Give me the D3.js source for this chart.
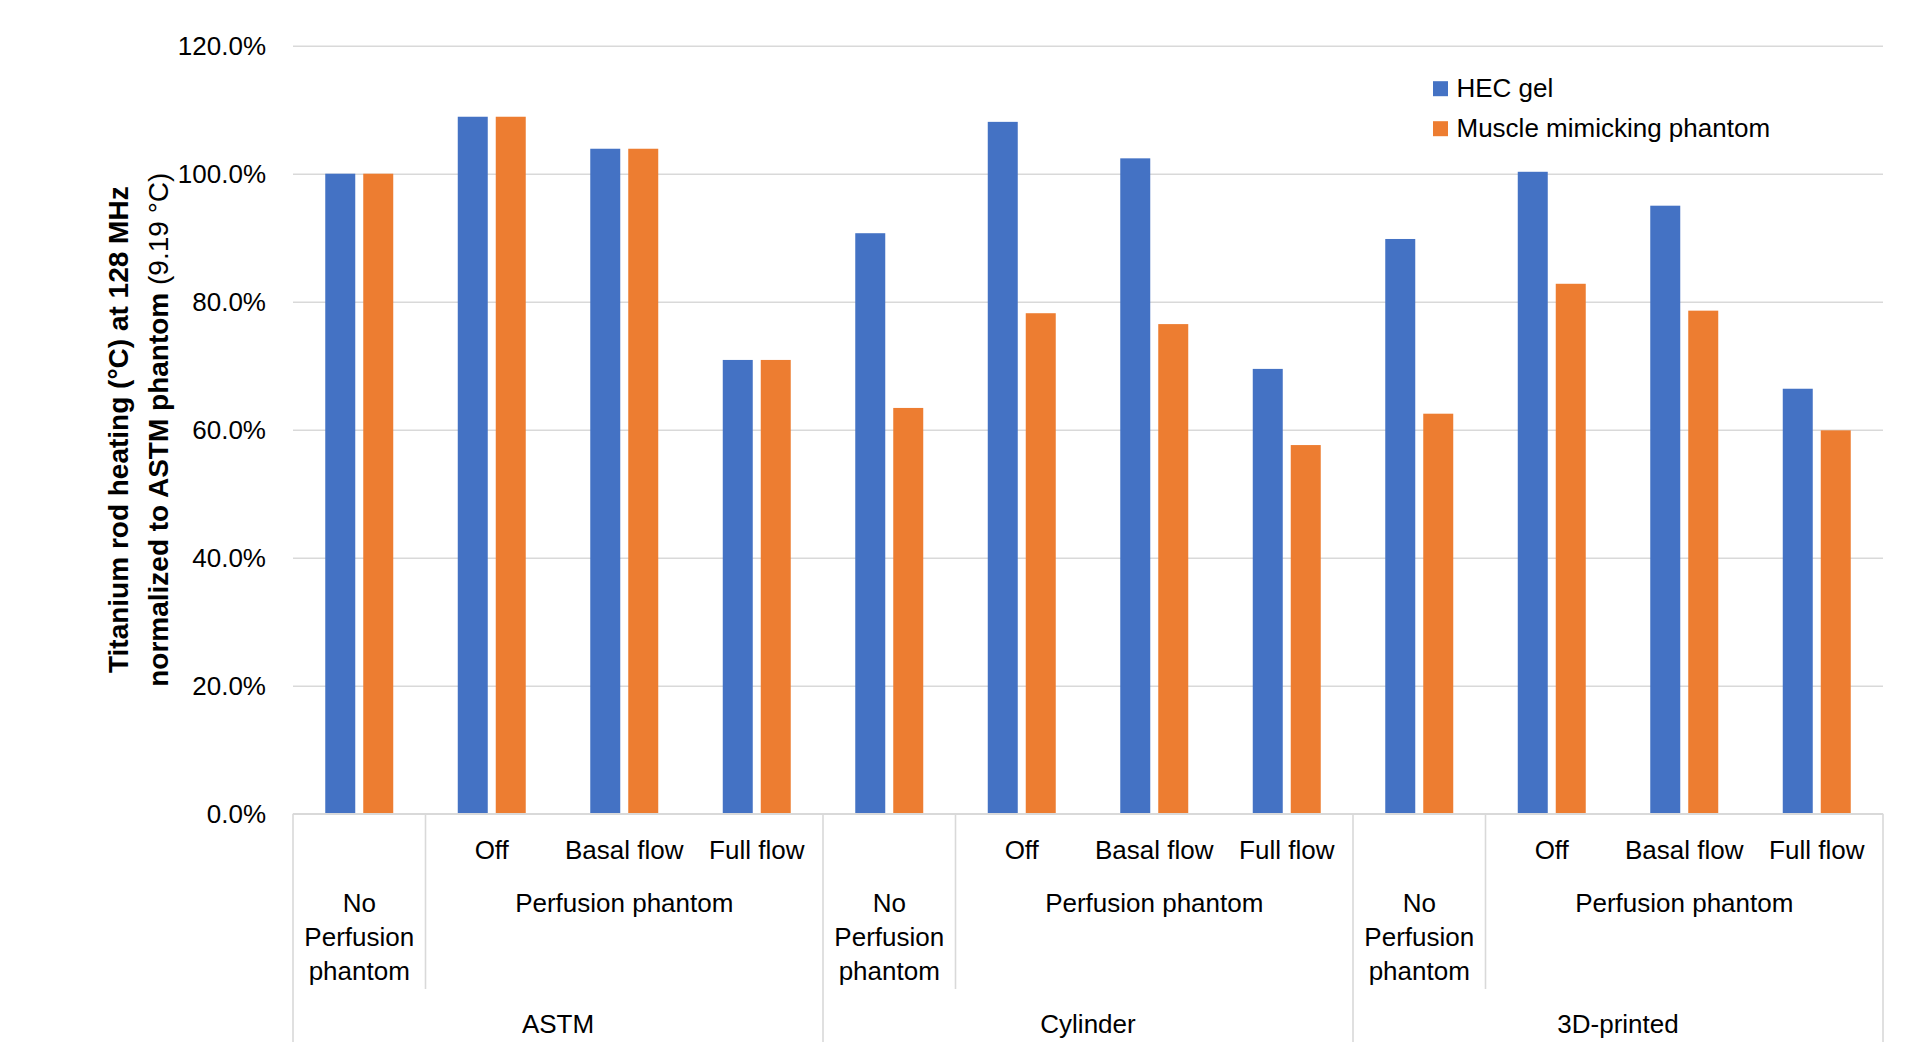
<!DOCTYPE html>
<html>
<head>
<meta charset="utf-8">
<script src="https://cdn.jsdelivr.net/npm/d3@7"></script>
<style>
  html, body { margin: 0; padding: 0; background: #fff; }
  svg { display: block; }
  text { font-family: "Liberation Sans", Arial, sans-serif; fill: #000; }
</style>
</head>
<body>
<svg id="chart" width="1906" height="1056"></svg>
<script>
// ---------- data ----------
const phantomTypes = ["ASTM", "ASTM", "ASTM", "ASTM",
                      "Cylinder", "Cylinder", "Cylinder", "Cylinder",
                      "3D-printed", "3D-printed", "3D-printed", "3D-printed"];
const perfusionLabels = ["No Perfusion phantom", "Perfusion phantom", "Perfusion phantom", "Perfusion phantom",
                         "No Perfusion phantom", "Perfusion phantom", "Perfusion phantom", "Perfusion phantom",
                         "No Perfusion phantom", "Perfusion phantom", "Perfusion phantom", "Perfusion phantom"];
const flowLabels = ["", "Off", "Basal flow", "Full flow",
                    "", "Off", "Basal flow", "Full flow",
                    "", "Off", "Basal flow", "Full flow"];
const seriesNames = ["HEC gel", "Muscle mimicking phantom"];
const hecGel = [1.000, 1.089, 1.039, 0.709, 0.907, 1.081, 1.024, 0.695, 0.898, 1.003, 0.950, 0.664];
const muscle = [1.000, 1.089, 1.039, 0.709, 0.634, 0.782, 0.765, 0.576, 0.625, 0.828, 0.786, 0.599];
const yTicks = [0, 0.2, 0.4, 0.6, 0.8, 1.0, 1.2];
const colors = ["#4472C4", "#ED7D31"];

(function draw() {
  const svg = d3.select("#chart");
  const pLeft = 293, pRight = 1883, pTop = 45.7, pBottom = 813.7;
  const idx = d3.range(flowLabels.length);
  const x0 = d3.scaleBand().domain(idx).range([pLeft, pRight]).paddingInner(0).paddingOuter(0);
  const x1 = d3.scaleBand().domain(seriesNames).range([0, x0.bandwidth()])
    .paddingInner(0.2105).paddingOuter(0.849);
  const y = d3.scaleLinear().domain([0, 1.2]).range([pBottom, pTop]);
  const color = d3.scaleOrdinal().domain(seriesNames).range(colors);
  const fs = 26;
  const ff = '"Liberation Sans", Arial, sans-serif';
  const axisColor = "#D9D9D9";

  // gridlines + tick labels
  const yAxis = d3.axisLeft(y).tickValues(yTicks).tickFormat(d3.format(".1%")).tickSize(0).tickPadding(0);
  const gy = svg.append("g").attr("transform", `translate(${pLeft},0)`).call(yAxis);
  gy.select(".domain").remove();
  gy.selectAll(".tick line").attr("x2", pRight - pLeft).attr("stroke", axisColor).attr("stroke-width", 1.6);
  gy.selectAll(".tick text").attr("x", -27).attr("dy", "0.34em")
    .style("font-size", fs + "px").style("font-family", ff).attr("fill", "#000");

  // bars
  const seriesData = [hecGel, muscle];
  const gBars = svg.append("g");
  seriesNames.forEach((s, si) => {
    gBars.selectAll(null).data(idx).enter().append("rect")
      .attr("x", i => x0(i) + x1(s))
      .attr("width", x1.bandwidth())
      .attr("y", i => y(seriesData[si][i]))
      .attr("height", i => y(0) - y(seriesData[si][i]))
      .attr("fill", color(s));
  });

  // x axis line
  svg.append("line").attr("x1", pLeft).attr("x2", pRight).attr("y1", pBottom).attr("y2", pBottom)
    .attr("stroke", axisColor).attr("stroke-width", 1.6);

  // multi-level category axis
  const row1 = 859, row2 = 912, lineH = 34, row3 = 1033;
  const shortEnd = 989, longEnd = 1042;
  const gx = svg.append("g");

  function wrapText(sel, text, maxW) {
    const words = text.split(" ");
    const lines = [];
    let cur = "";
    const tmp = sel.append("tspan");
    words.forEach(w => {
      const test = cur ? cur + " " + w : w;
      tmp.text(test);
      if (tmp.node().getComputedTextLength() > maxW && cur) { lines.push(cur); cur = w; }
      else cur = test;
    });
    lines.push(cur);
    tmp.remove();
    lines.forEach((l, k) => {
      sel.append("tspan").attr("x", sel.attr("x")).attr("dy", k === 0 ? 0 : lineH).text(l);
    });
  }

  idx.forEach(i => {
    if (flowLabels[i]) {
      gx.append("text").attr("x", x0(i) + x0.bandwidth() / 2).attr("y", row1)
        .attr("text-anchor", "middle").style("font-size", fs + "px").text(flowLabels[i]);
    }
  });

  function spans(arr, parent) {
    const out = [];
    let start = 0;
    for (let i = 1; i <= arr.length; i++) {
      if (i === arr.length || arr[i] !== arr[start] || (parent && parent[i] !== parent[start])) {
        out.push({ label: arr[start], start, end: i - 1 });
        start = i;
      }
    }
    return out;
  }
  const sp2 = spans(perfusionLabels, phantomTypes);
  const sp3 = spans(phantomTypes);

  sp2.forEach(s => {
    const xs = x0(s.start), xe = x0(s.end) + x0.bandwidth();
    const t = gx.append("text").attr("x", (xs + xe) / 2).attr("y", row2)
      .attr("text-anchor", "middle").style("font-size", fs + "px");
    wrapText(t, s.label, xe - xs - 8);
  });
  sp3.forEach(s => {
    const xs = x0(s.start), xe = x0(s.end) + x0.bandwidth();
    gx.append("text").attr("x", (xs + xe) / 2).attr("y", row3)
      .attr("text-anchor", "middle").style("font-size", fs + "px").text(s.label);
  });

  const longX = new Set([pLeft]);
  sp3.forEach(s => longX.add(x0(s.end) + x0.bandwidth()));
  const shortX = new Set();
  sp2.forEach(s => { const xe = x0(s.end) + x0.bandwidth(); if (!longX.has(xe)) shortX.add(xe); });
  [...longX].forEach(xv => gx.append("line").attr("x1", xv).attr("x2", xv).attr("y1", pBottom).attr("y2", longEnd)
    .attr("stroke", axisColor).attr("stroke-width", 1.6));
  [...shortX].forEach(xv => gx.append("line").attr("x1", xv).attr("x2", xv).attr("y1", pBottom).attr("y2", shortEnd)
    .attr("stroke", axisColor).attr("stroke-width", 1.6));

  // y axis title
  const title = svg.append("text")
    .attr("transform", `translate(128, ${(pTop + pBottom) / 2}) rotate(-90)`)
    .attr("text-anchor", "middle").style("font-size", "28px");
  title.append("tspan").attr("x", 0).attr("y", 0).style("font-weight", "bold")
    .text("Titanium rod heating (°C) at 128 MHz");
  title.append("tspan").attr("x", 0).attr("dy", 40).style("font-weight", "bold")
    .text("normalized to ASTM phantom");
  title.append("tspan").style("font-weight", "normal").text(" (9.19 °C)");

  // legend
  const legend = svg.append("g");
  seriesNames.forEach((s, si) => {
    const cy = 88.7 + si * 40;
    legend.append("rect").attr("x", 1433).attr("y", cy - 7.5).attr("width", 15).attr("height", 15).attr("fill", color(s));
    legend.append("text").attr("x", 1456.5).attr("y", cy + 8.5).style("font-size", fs + "px").text(s);
  });
})();
</script>
</body>
</html>
